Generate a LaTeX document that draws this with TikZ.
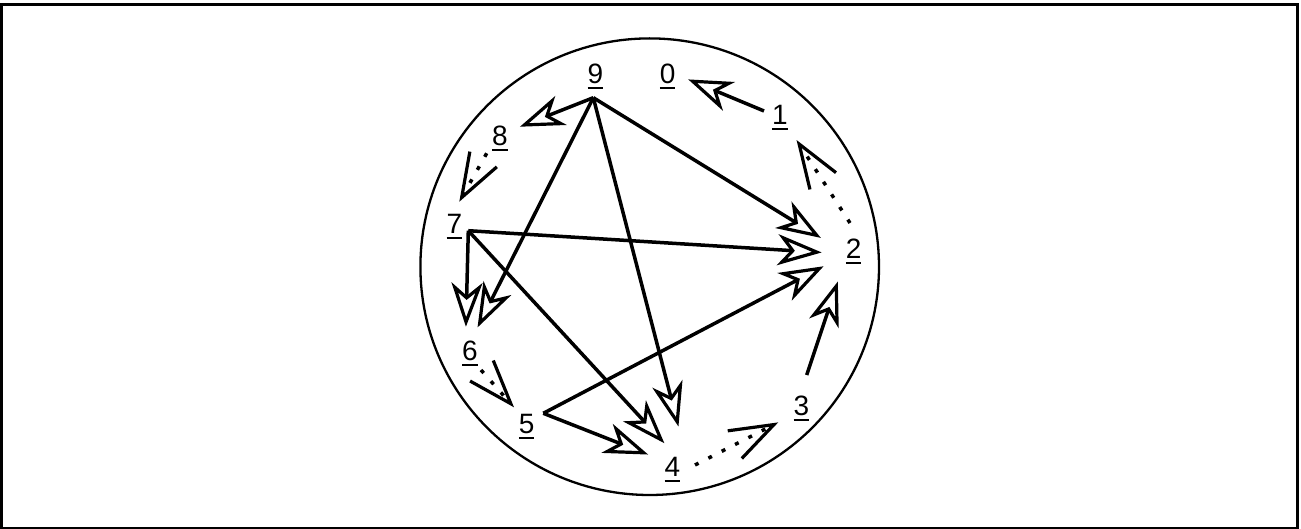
\documentclass[tikz,border=0pt]{standalone}
\usepackage{fontspec}
\setmainfont{Liberation Sans}
\usetikzlibrary{arrows.meta}
\newcommand{\ulab}[1]{\vtop{\hbox{#1}\kern3.4pt\hrule height 2pt}}
\begin{document}
\begin{tikzpicture}[x=1pt,y=-1pt,
  lab/.style={inner sep=0pt, anchor=base, font=\fontsize{28}{34}\selectfont},
  edge/.style={line width=3.5pt, -{Stealth[open, length=44pt, width=31pt, inset=13pt, line width=3.2pt]}},
  dedge/.style={line width=3.5pt, dash pattern=on 4pt off 11pt, -{Straight Barb[length=44pt, width=31pt, line width=3.2pt]}},
]
\useasboundingbox (0,0) rectangle (1301,529);
\draw[line width=2.7pt] (1.4,4.7) rectangle (1297.4,528);
\draw[line width=2.3pt] (649.7,266.7) ellipse [x radius=229.3pt, y radius=228.3pt];

\node[lab] (n9) at (595.5,83.3) {\ulab{9}};
\node[lab] (n0) at (667.7,83.3) {\ulab{0}};
\node[lab] (n1) at (780,125) {\ulab{1}};
\node[lab] (n2) at (853.7,258.3) {\ulab{2}};
\node[lab] (n3) at (801.3,415.5) {\ulab{3}};
\node[lab] (n4) at (672.5,476.7) {\ulab{4}};
\node[lab] (n5) at (526.7,433.3) {\ulab{5}};
\node[lab] (n6) at (470,360.5) {\ulab{6}};
\node[lab] (n7) at (454.3,233.3) {\ulab{7}};
\node[lab] (n8) at (500,145.5) {\ulab{8}};

% source points
\coordinate (s1) at (764,111);
\coordinate (s2) at (850,223);
\coordinate (s3) at (806.7,375);
\coordinate (s4) at (695,465);
\coordinate (s5) at (543.3,413.3);
\coordinate (s6) at (481,370);
\coordinate (s7) at (468.3,230.7);
\coordinate (s8) at (486.7,153.3);
\coordinate (s9) at (593.3,97.7);
% target points
\coordinate (t0) at (668,71);
\coordinate (t1) at (783,119);
\coordinate (t2) at (847,254);
\coordinate (t3) at (800.5,411);
\coordinate (t4) at (690,471);
\coordinate (t5) at (528.6,423.8);
\coordinate (t6) at (465.3,351.7);
\coordinate (t7) at (447,223.5);
\coordinate (t8) at (499.5,134.8);

\draw[edge, shorten >=21.9pt] (s1) -- (t0);
\draw[dedge, shorten >=25pt] (s2) -- (t1);
\draw[edge, shorten >=29pt] (s3) -- (t2);
\draw[dedge, shorten >=25pt] (s4) -- (t3);
\draw[edge, shorten >=45pt] (s5) -- (t4);
\draw[edge, shorten >=26.4pt] (s5) -- (t2);
\draw[dedge, shorten >=22pt] (s6) -- (t5);
\draw[edge, shorten >=25pt] (s7) -- (t6);
\draw[edge, shorten >=25.4pt] (s7) -- (t2);
\draw[edge, shorten >=37.8pt] (s7) -- (t4);
\draw[dedge, shorten >=25pt] (s8) -- (t7);
\draw[edge, shorten >=22pt] (s9) -- (t8);
\draw[edge, shorten >=27.2pt] (s9) -- (t6);
\draw[edge, shorten >=46pt] (s9) -- (t4);
\draw[edge, shorten >=30.7pt] (s9) -- (t2);
\end{tikzpicture}
\end{document}
